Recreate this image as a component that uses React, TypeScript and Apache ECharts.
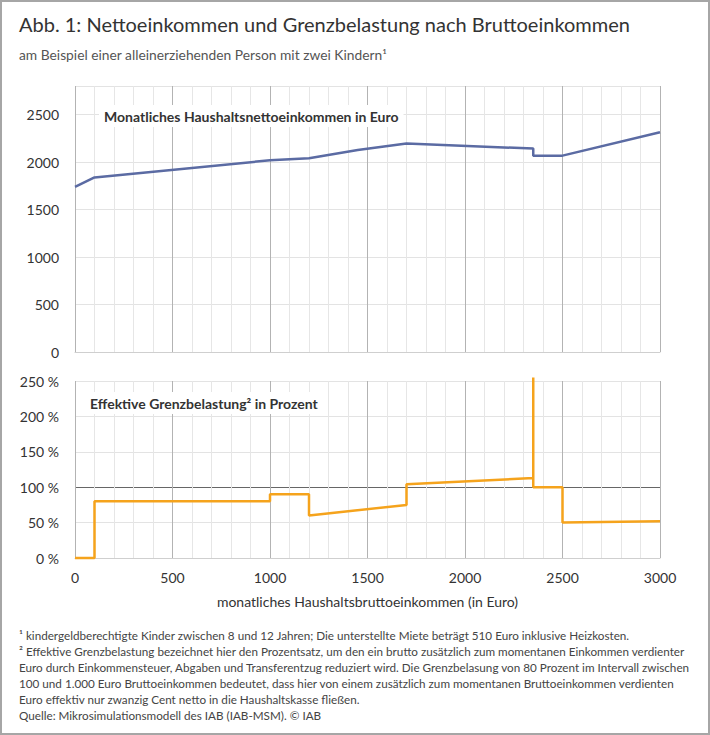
import React, { useEffect, useRef } from "react";
import * as echarts from "echarts";

// Net income (Euro) vs gross income (Euro)
const netX = [0, 100, 1000, 1200, 1450, 1700, 2350, 2350, 2500, 3000];
const netY = [1737, 1838, 2018, 2039, 2127, 2195, 2141, 2067, 2067, 2313];

// Effective marginal burden (%) vs gross income (Euro)
const rateX = [0, 100, 100, 1000, 1000, 1200, 1200, 1700, 1700, 2350, 2350, 2350, 2500, 2500, 3000];
const rateY = [0, 0, 80, 80, 90, 90, 60, 75, 104, 113, 255, 100, 100, 50, 52];

const netTicks = [0, 500, 1000, 1500, 2000, 2500];
const rateTicks = [0, 50, 100, 150, 200, 250];

const TITLE = "Abb. 1: Nettoeinkommen und Grenzbelastung nach Bruttoeinkommen";
const SUBTITLE = "am Beispiel einer alleinerziehenden Person mit zwei Kindern¹";
const LABEL_TOP = "Monatliches Haushaltsnettoeinkommen in Euro";
const LABEL_BOTTOM = "Effektive Grenzbelastung² in Prozent";
const X_NAME = "monatliches Haushaltsbruttoeinkommen (in Euro)";
const NOTES = [
  "¹ kindergeldberechtigte Kinder zwischen 8 und 12 Jahren; Die unterstellte Miete beträgt 510 Euro inklusive Heizkosten.",
  "² Effektive Grenzbelastung bezeichnet hier den Prozentsatz, um den ein brutto zusätzlich zum momentanen Einkommen verdienter",
  "Euro durch Einkommensteuer, Abgaben und Transferentzug reduziert wird. Die Grenzbelasung von 80 Prozent im Intervall zwischen",
  "100 und 1.000 Euro Bruttoeinkommen bedeutet, dass hier von einem zusätzlich zum momentanen Bruttoeinkommen verdienten",
  "Euro effektiv nur zwanzig Cent netto in die Haushaltskasse fließen.",
  "Quelle: Mikrosimulationsmodell des IAB (IAB-MSM). © IAB",
];

const FONT = "Lato, 'Noto Sans', sans-serif";

export default function App() {
  const ref = useRef<HTMLDivElement>(null);
  useEffect(() => {
    document.body.style.margin = "0";
    if (!ref.current) return;
    const chart = echarts.init(ref.current, undefined, { renderer: "svg" });
    const netData = netX.map((x, i) => [x, netY[i]]);
    const rateData = rateX.map((x, i) => [x, rateY[i]]);
    const minorColor = "#e6e6e6";
    const majorColor = "#b3b3b3";
    const xCommon = {
      type: "value" as const,
      min: 0,
      max: 3000,
      interval: 500,
      axisTick: { show: false },
      axisLine: { show: true, lineStyle: { color: "#cfcfcf", width: 1 } },
      splitLine: { show: true, lineStyle: { color: majorColor, width: 1 } },
      minorTick: { show: false, splitNumber: 5 },
      minorSplitLine: { show: true, lineStyle: { color: minorColor, width: 1 } },
    };
    const option: any = {
      animation: false,
      backgroundColor: "#ffffff",
      textStyle: { fontFamily: FONT },
      grid: [
        { left: 73, right: 48, top: 84, height: 266 },
        { left: 73, right: 48, top: 379, height: 177 },
      ],
      xAxis: [
        { ...xCommon, gridIndex: 0, axisLabel: { show: false } },
        {
          ...xCommon,
          gridIndex: 1,
          axisLabel: {
            show: true,
            color: "#333",
            fontSize: 14,
            margin: 12,
            fontFamily: FONT,
            formatter: (v: number) => String(v),
          },
          name: X_NAME,
          nameLocation: "middle",
          nameGap: 36,
          nameTextStyle: { color: "#333", fontSize: 14, fontFamily: FONT },
        },
      ],
      yAxis: [
        {
          type: "value",
          gridIndex: 0,
          min: 0,
          max: 2800,
          interval: 500,
          axisLine: { show: false },
          axisTick: { show: false },
          axisLabel: {
            color: "#333",
            fontSize: 14,
            margin: 16,
            fontFamily: FONT,
            formatter: (v: number) => (netTicks.includes(v) ? String(v) : ""),
          },
          splitLine: { show: true, lineStyle: { color: "#e3e3e3" } },
        },
        {
          type: "value",
          gridIndex: 1,
          min: 0,
          max: 250,
          interval: 50,
          axisLine: { show: false },
          axisTick: { show: false },
          axisLabel: {
            color: "#333",
            fontSize: 14,
            margin: 16,
            fontFamily: FONT,
            formatter: (v: number) => (rateTicks.includes(v) ? v + " %" : ""),
          },
          splitLine: {
            show: true,
            lineStyle: { color: ["#e3e3e3", "#e3e3e3", "#666666", "#e3e3e3", "#e3e3e3", "#e3e3e3"] },
          },
        },
      ],
      series: [
        {
          type: "line",
          xAxisIndex: 0,
          yAxisIndex: 0,
          data: netData,
          showSymbol: false,
          lineStyle: { color: "#5b6ba3", width: 2.5 },
          z: 5,
        },
        {
          type: "line",
          xAxisIndex: 1,
          yAxisIndex: 1,
          data: rateData,
          showSymbol: false,
          clip: false,
          lineStyle: { color: "#f5a31c", width: 2.5 },
          z: 5,
        },
      ],
      graphic: [
        {
          type: "text",
          left: 17,
          top: 12,
          style: { text: TITLE, fill: "#333", font: `20px ${FONT}` },
        },
        {
          type: "text",
          left: 17,
          top: 45,
          style: { text: SUBTITLE, fill: "#555", font: `13.8px ${FONT}` },
        },
        {
          type: "text",
          left: 97,
          top: 103,
          z: 10,
          style: {
            text: LABEL_TOP,
            fill: "#333",
            font: `bold 14px ${FONT}`,
            backgroundColor: "#ffffff",
            padding: [4, 5, 4, 5],
          },
        },
        {
          type: "text",
          left: 83,
          top: 390,
          z: 10,
          style: {
            text: LABEL_BOTTOM,
            fill: "#333",
            font: `bold 14px ${FONT}`,
            backgroundColor: "#ffffff",
            padding: [4, 5, 4, 5],
          },
        },
        ...NOTES.map((t, i) => ({
          type: "text",
          left: 17,
          top: 627 + i * 16,
          style: { text: t, fill: "#444", font: `11.7px ${FONT}` },
        })),
      ],
    };
    chart.setOption(option);
    return () => chart.dispose();
  }, []);
  return (
    <div
      style={{
        width: 710,
        height: 735,
        boxSizing: "border-box",
        border: "2px solid #a6a6a6",
        background: "#fff",
      }}
    >
      <div ref={ref} style={{ width: 706, height: 731 }} />
    </div>
  );
}
